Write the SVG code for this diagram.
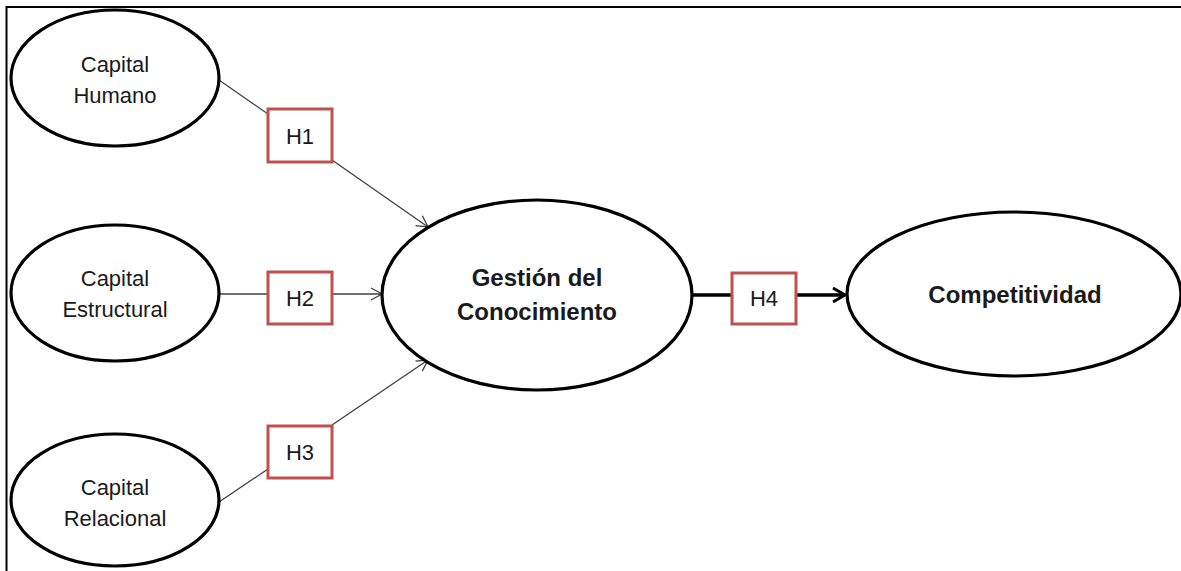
<svg xmlns="http://www.w3.org/2000/svg" width="1181" height="571" viewBox="0 0 1181 571">
<style>
.ell{fill:#fff;stroke:#000;stroke-width:3.2}
.box{fill:#fff;stroke:#c0504d;stroke-width:3}
.t{font-family:"Liberation Sans",Arial,sans-serif;font-size:22px;fill:#1a1a1a;text-anchor:middle}
.h{font-family:"Liberation Sans",Arial,sans-serif;font-size:22px;fill:#1a1a1a;text-anchor:middle}
.b{font-family:"Liberation Sans",Arial,sans-serif;font-size:24px;font-weight:bold;fill:#1a1a1a;text-anchor:middle}
.ln{stroke:#404040;stroke-width:1.3;fill:none}
.thick{stroke:#000;stroke-width:3.5;fill:none}
</style>
<defs>
<marker id="a" markerWidth="14" markerHeight="14" refX="12" refY="7" orient="auto" markerUnits="userSpaceOnUse">
<path d="M1,1 L12,7 L1,13" fill="none" stroke="#404040" stroke-width="1.3"/>
</marker>
<marker id="a2" markerWidth="16" markerHeight="18" refX="14" refY="9" orient="auto" markerUnits="userSpaceOnUse">
<path d="M2,2 L14,9 L2,16" fill="none" stroke="#000" stroke-width="3"/>
</marker>
</defs>
<rect width="1181" height="571" fill="#fff"/>
<path d="M6.5,571 L6.5,7 L1181,7" fill="none" stroke="#000" stroke-width="2"/>
<g id="connectors">
<line class="ln" x1="219" y1="80" x2="268" y2="114"/>
<line class="ln" x1="332" y1="160" x2="428" y2="227" marker-end="url(#a)"/>
<line class="ln" x1="219" y1="294" x2="268" y2="294"/>
<line class="ln" x1="332" y1="294" x2="382" y2="294" marker-end="url(#a)"/>
<line class="ln" x1="219" y1="502" x2="268" y2="469"/>
<line class="ln" x1="332" y1="425" x2="428" y2="360" marker-end="url(#a)"/>
<line class="thick" x1="692" y1="295" x2="732" y2="295"/>
<line class="thick" x1="796" y1="295" x2="845" y2="295" marker-end="url(#a2)"/>
</g>
<g id="capital-humano">
<ellipse class="ell" cx="115" cy="78" rx="104" ry="68"/>
<text class="t" x="115" y="72">Capital</text>
<text class="t" x="115" y="103">Humano</text>
</g>
<g id="capital-estructural">
<ellipse class="ell" cx="115" cy="293" rx="104" ry="68"/>
<text class="t" x="115" y="286">Capital</text>
<text class="t" x="115" y="317">Estructural</text>
</g>
<g id="capital-relacional">
<ellipse class="ell" cx="115" cy="500" rx="104" ry="66"/>
<text class="t" x="115" y="495">Capital</text>
<text class="t" x="115" y="526">Relacional</text>
</g>
<g id="gestion">
<ellipse class="ell" cx="537" cy="295" rx="155" ry="95"/>
<text class="b" x="537" y="286">Gestión del</text>
<text class="b" x="537" y="320">Conocimiento</text>
</g>
<g id="competitividad">
<ellipse class="ell" cx="1014" cy="294" rx="167" ry="82"/>
<text class="b" x="1015" y="303">Competitividad</text>
</g>
<g id="h1"><rect class="box" x="268" y="109" width="64" height="53"/><text class="h" x="300" y="144">H1</text></g>
<g id="h2"><rect class="box" x="268" y="272" width="64" height="52"/><text class="h" x="300" y="306">H2</text></g>
<g id="h3"><rect class="box" x="268" y="426" width="64" height="52"/><text class="h" x="300" y="460">H3</text></g>
<g id="h4"><rect class="box" x="732" y="273" width="64" height="51"/><text class="h" x="764" y="306">H4</text></g>
</svg>
